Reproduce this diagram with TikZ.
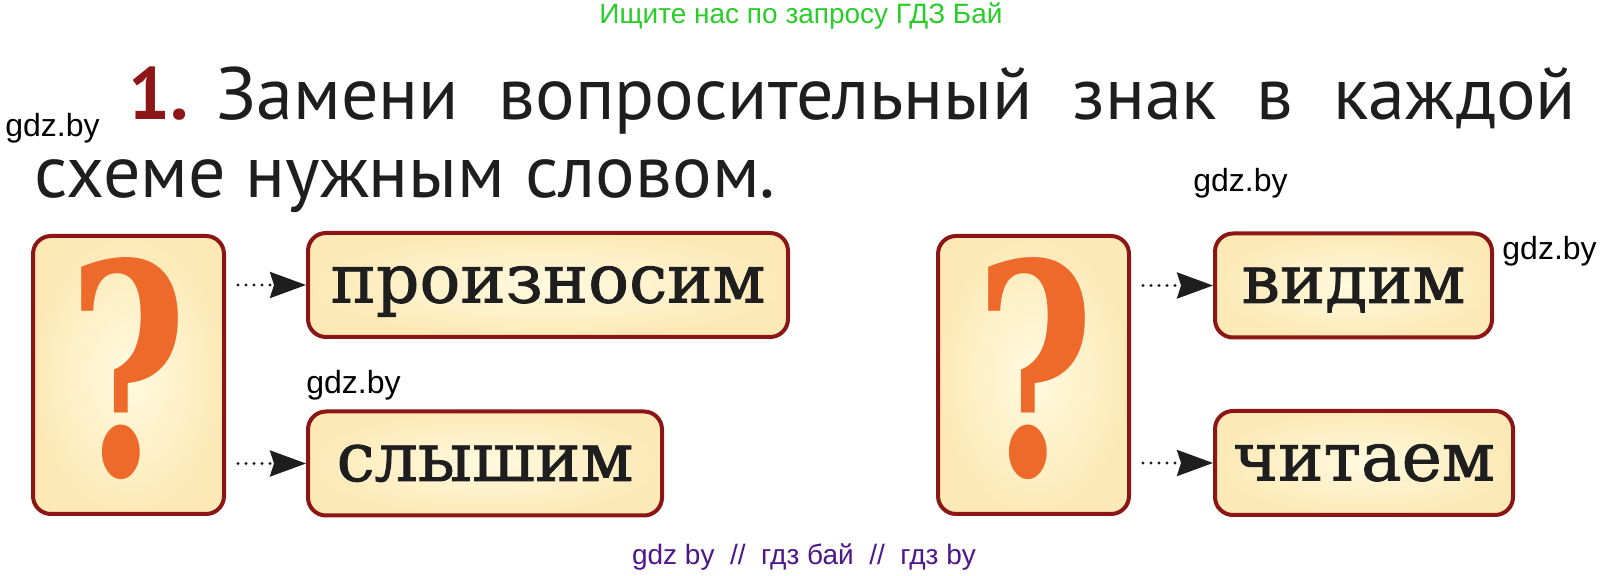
\documentclass[tikz,border=0pt]{standalone}
\usepackage{fontspec}
\setmainfont{PT Sans}
\newfontfamily\wordfont[FakeBold=1.2]{DejaVu Serif}
\newfontfamily\qfont{DejaVu Serif Bold}
\newfontfamily\gdzfont{Liberation Sans}
\usetikzlibrary{arrows.meta}
\usetikzlibrary{shadings}

\definecolor{boxred}{RGB}{140,22,22}
\definecolor{creamin}{RGB}{255,250,224}
\definecolor{creamout}{RGB}{253,233,182}
\definecolor{qorange}{RGB}{238,106,43}
\definecolor{numred}{RGB}{142,22,22}
\definecolor{inkgray}{RGB}{30,30,30}
\definecolor{gdzgreen}{RGB}{40,205,40}
\definecolor{gdzpurple}{RGB}{78,24,140}

\tikzset{
  qbox/.style={draw=boxred, line width=2pt, rounded corners=9pt,
    inner color=creamin, outer color=creamout,
    minimum width=95.5pt, minimum height=139pt},
  wbox/.style={draw=boxred, line width=2pt, rounded corners=9pt,
    inner color=creamin, outer color=creamout,
    minimum height=52pt, inner sep=0pt, text height=17.5pt, text depth=0pt,
    text=inkgray, font=\wordfont\fontsize{34}{34}\selectfont},
  qsign/.style={text=qorange, inner sep=0pt},
  link/.style={line width=1.6pt, dash pattern=on 0pt off 4pt, line cap=round,
    shorten <=6pt, -{Stealth[length=18pt,width=13pt,inset=2pt]}, color=inkgray},
  gdzmark/.style={inner sep=0pt, anchor=base west, text=black,
    font=\gdzfont\fontsize{16}{16}\selectfont}
}

\begin{document}
\begin{tikzpicture}[x=0.5pt, y=-0.5pt]
\useasboundingbox (0,0) rectangle (1611,576);
\fill[white] (0,0) rectangle (1611,576);

\node[inner sep=0pt, anchor=base, text=gdzgreen, font=\gdzfont\fontsize{14}{14}\selectfont]
  (top) at (801,24) {Ищите нас по запросу ГДЗ Бай};

\node[inner sep=0pt, anchor=base west, text=inkgray, font=\fontsize{37}{37}\selectfont]
  (title1) at (128,120) {\makebox[724pt][s]{\textcolor{numred}{\textbf{1.}}\hspace{14pt}Замени вопросительный знак в каждой}};
\node[inner sep=0pt, anchor=base west, text=inkgray, font=\fontsize{37}{37}\selectfont]
  (title2) at (34,198) {схеме нужным словом.};

\node[qbox] (qa) at (128.5,375) {};
\node[qbox] (qb) at (1033.5,375) {};
\node[qsign] (qma) at (127.5,369) {\resizebox{59.5pt}{109pt}{\qfont ?}};
\node[qsign] (qmb) at (1034.5,369) {\resizebox{59.5pt}{109pt}{\qfont ?}};

\node[wbox, minimum width=240pt] (w1) at (548,285) {произносим};
\node[wbox, minimum width=177pt] (w2) at (485,463.5) {слышим};
\node[wbox, minimum width=138.5pt] (w3) at (1353.5,285.5) {видим};
\node[wbox, minimum width=149pt] (w4) at (1364,463) {читаем};

\draw[link] (qa.east |- w1.west) -- (w1.west);
\draw[link] (qa.east |- w2.west) -- (w2.west);
\draw[link] (qb.east |- w3.west) -- (w3.west);
\draw[link] (qb.east |- w4.west) -- (w4.west);

\node[gdzmark] (g1) at (5,137) {gdz.by};
\node[gdzmark] (g2) at (1193,192) {gdz.by};
\node[gdzmark] (g3) at (1502,260) {gdz.by};
\node[gdzmark] (g4) at (306,394) {gdz.by};

\node[inner sep=0pt, anchor=base, text=gdzpurple, font=\gdzfont\fontsize{14}{14}\selectfont]
  (bottom) at (804,565) {gdz by \ // \ гдз бай \ // \ гдз by};
\end{tikzpicture}
\end{document}
